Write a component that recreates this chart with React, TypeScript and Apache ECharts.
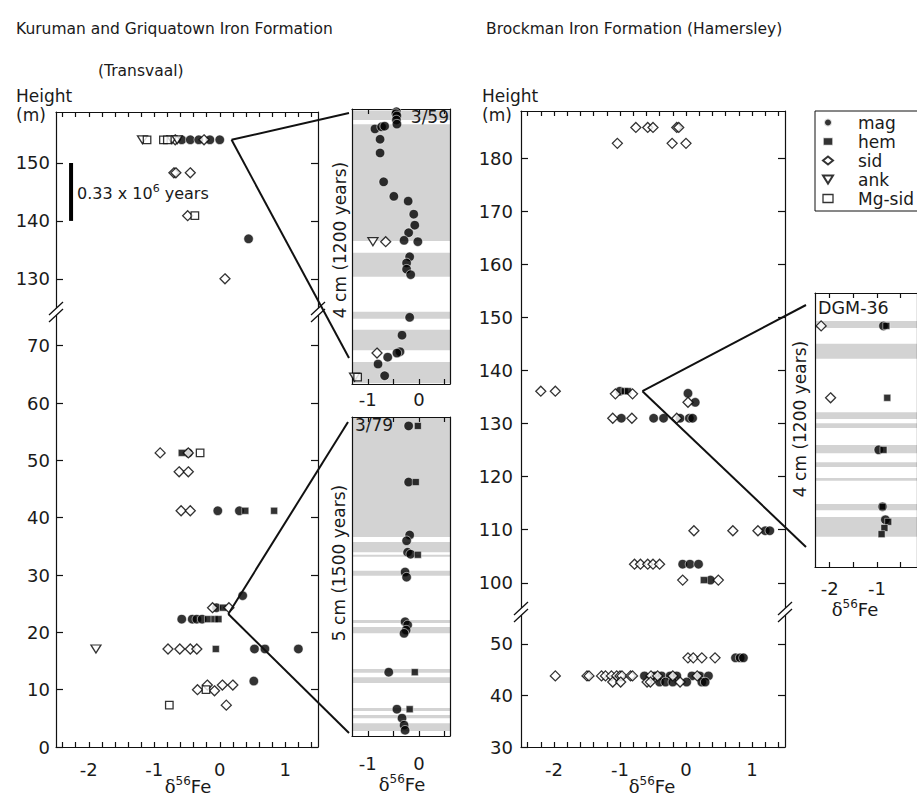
import React, { useEffect, useRef } from "react";
import * as echarts from "echarts";

const MINERALS = ["mag", "hem", "sid", "ank", "Mg-sid"];

// Kuruman & Griquatown Iron Formation (Transvaal): [δ56Fe, height m]
const kurMag = [[-0.58,154],[-0.45,154],[-0.32,154],[-0.15,154],[0.0,154],[0.44,136.9],[-0.48,51.3],[-0.03,41.2],[0.3,41.2],[0.35,26.4],[-0.05,24.3],[-0.58,22.3],[-0.42,22.3],[-0.35,22.3],[-0.27,22.3],[0.53,17.1],[0.69,17.1],[1.2,17.1],[0.52,11.5]];
const kurHem = [[-0.58,51.3],[0.39,41.2],[0.83,41.2],[0.05,24.3],[-0.18,22.3],[-0.08,22.3],[-0.02,22.3],[-0.06,17.1]];
const kurSid = [[-0.68,154],[-0.24,154],[-0.7,148.3],[-0.67,148.3],[-0.45,148.3],[-0.49,140.9],[0.08,130],[-0.91,51.3],[-0.48,51.3],[-0.62,48.0],[-0.48,48.0],[-0.59,41.2],[-0.45,41.2],[-0.11,24.3],[0.14,24.3],[-0.79,17.1],[-0.61,17.1],[-0.45,17.1],[-0.35,17.1],[-0.34,10.0],[-0.19,10.8],[-0.08,9.8],[0.04,10.8],[0.2,10.8],[0.1,7.3]];
const kurAnk = [[-1.18,154],[-0.73,154],[-0.65,154],[-1.89,17.1]];
const kurMgSid = [[-1.11,154],[-0.86,154],[-0.8,154],[-0.38,140.9],[-0.3,51.3],[-0.21,10.0],[-0.77,7.3]];

// Brockman Iron Formation (Hamersley): [δ56Fe, height m]
const brMag = [[0.03,135.7],[0.14,134.0],[-1.0,136.1],[-0.98,131],[-0.49,131],[-0.34,131],[-0.09,131],[0.05,131],[0.1,131],[1.2,109.8],[1.27,109.8],[-0.05,103.5],[0.06,103.5],[0.19,103.5],[0.37,100.5],[0.75,47.3],[0.82,47.3],[0.87,47.3],[-0.63,43.8],[-0.47,43.8],[-0.37,43.8],[-0.24,43.8],[-0.14,43.8],[0.09,43.8],[0.21,43.8],[0.34,43.8],[-0.4,42.6],[-0.31,42.6],[-0.2,42.6],[0.01,42.6],[0.24,42.6],[0.29,42.6]];
const brHem = [[-0.93,136.1],[-0.88,136.1],[0.27,100.5]];
const brSid = [[-1.04,182.8],[-0.21,182.8],[0.0,182.8],[-0.76,185.8],[-0.58,185.8],[-0.5,185.8],[-0.14,185.8],[-0.11,185.8],[-2.2,136.1],[-1.98,136.1],[-1.07,135.6],[-0.81,135.6],[0.03,134.0],[-1.11,131],[-0.82,131],[-0.14,131],[0.12,109.8],[0.71,109.8],[1.09,109.8],[-0.78,103.5],[-0.69,103.5],[-0.58,103.5],[-0.5,103.5],[-0.4,103.5],[-0.05,100.5],[0.49,100.5],[0.03,47.3],[0.11,47.3],[0.24,47.3],[0.44,47.3],[-1.98,43.8],[-1.5,43.8],[-1.47,43.8],[-1.28,43.8],[-1.22,43.8],[-1.13,43.8],[-1.05,43.8],[-1.0,43.8],[-0.97,43.8],[-0.84,43.8],[-0.81,43.8],[-0.53,43.8],[-0.43,43.8],[-0.2,43.8],[0.17,43.8],[-1.11,42.6],[-0.99,42.6],[-0.59,42.6],[-0.54,42.6],[-0.09,42.6]];

// Inset 3/59 (4 cm): [δ56Fe, position cm]
const in59Mag = [[-0.44,3.96],[-0.45,3.93],[-0.43,3.9],[-0.44,3.84],[-0.43,3.78],[-0.86,3.71],[-0.73,3.74],[-0.67,3.75],[-0.76,3.56],[-0.76,3.36],[-0.69,2.94],[-0.49,2.73],[-0.21,2.66],[-0.1,2.47],[-0.08,2.31],[-0.2,2.2],[-0.29,2.09],[-0.02,2.07],[-0.18,1.85],[-0.24,1.76],[-0.24,1.67],[-0.16,1.59],[-0.18,0.97],[-0.33,0.71],[-0.37,0.47],[-0.43,0.45],[-0.61,0.39],[-0.8,0.29],[-0.67,0.12]];
const in59Sid = [[-0.65,2.07],[-0.82,0.45]];
const in59Ank = [[-0.9,2.07],[-1.26,0.1]];
const in59MgSid = [[-1.2,0.1]];
const band59 = [[3.84,3.98],[2.08,3.78],[1.56,1.91],[0.95,1.05],[0.49,0.79],[0.01,0.32]];

// Inset 3/79 (5 cm)
const in79Mag = [[-0.2,4.86],[-0.2,3.98],[-0.18,3.15],[-0.24,3.06],[-0.22,2.88],[-0.16,2.85],[-0.27,2.57],[-0.24,2.49],[-0.27,1.79],[-0.22,1.74],[-0.25,1.66],[-0.29,1.61],[-0.59,1.0],[-0.43,0.42],[-0.33,0.28],[-0.29,0.17],[-0.27,0.09]];
const in79Hem = [[-0.02,4.86],[-0.06,3.98],[-0.02,2.84],[-0.08,1.0],[-0.18,0.42]];
const band79 = [[3.12,5.0],[2.88,3.04],[2.81,2.84],[2.51,2.59],[1.77,1.82],[1.61,1.71],[0.99,1.05],[0.83,0.92],[0.39,0.44],[0.28,0.33],[0.08,0.2]];

// Inset DGM-36 (4 cm)
const dgmMag = [[-0.86,3.52],[-0.96,1.71],[-0.88,0.88],[-0.82,0.69]];
const dgmHem = [[-0.8,3.52],[-0.78,2.47],[-0.86,1.71],[-0.88,0.88],[-0.76,0.66],[-0.84,0.57],[-0.9,0.48]];
const dgmSid = [[-2.18,3.52],[-1.98,2.47]];
const bandDgm = [[3.49,3.59],[3.04,3.26],[2.16,2.26],[2.03,2.1],[1.66,1.78],[1.46,1.53],[1.26,1.3],[0.83,0.92],[0.44,0.73]];

// scale bar (0.33 Ma) and zoom vertices
const scaleBar = [[-2.27,140],[-2.27,150]];
const zoomVertices = [[0.18,154],[0.13,23.2],[-0.66,136.1]];

// tick labels
const mainXLabels = [-2,-1,0,1];
const insetXLabels = [-1,0];
const dgmXLabels = [-2,-1];
const kurUpperY = [130,140,150];
const kurLowerY = [0,10,20,30,40,50,60,70];
const brUpperY = [100,110,120,130,140,150,160,170,180];
const brLowerY = [30,40,50];

const FONT = "DejaVu Sans";
const TXT = "#1a1a1a";
const LINE = "#111";

const mainXTicks: number[] = [];
for (let i = -12; i <= 7; i++) mainXTicks.push(Math.round(i * 2) / 10);
const insetTicks = [-1, -0.5, 0, 0.5];
const dgmTicks = [-2, -1.5, -1, -0.5];

const STY: any = {
  mag: { symbol: "circle", symbolSize: 9.5, itemStyle: { color: "#000", borderColor: "#fff", borderWidth: 0.7 } },
  hem: { symbol: "rect", symbolSize: 7, itemStyle: { color: "#000", borderColor: "#fff", borderWidth: 0.6 } },
  sid: { symbol: "diamond", symbolSize: [10, 10], itemStyle: { color: "#fff", borderColor: "#000", borderWidth: 1.3 } },
  ank: { symbol: "triangle", symbolSize: [10, 8], symbolRotate: 180, itemStyle: { color: "#fff", borderColor: "#000", borderWidth: 1.3 } },
  "Mg-sid": { symbol: "rect", symbolSize: 7.5, itemStyle: { color: "#fff", borderColor: "#000", borderWidth: 1.3 } },
};

// grid -> [xAxisIndex, yAxisIndex]
const GA = [[0, 0], [1, 2], [2, 4], [4, 6], [6, 8], [7, 10], [8, 12]];

function xAx(g: number, position: string, min: number, max: number, ticks: number[], labels: number[] | null, margin = 10) {
  return {
    type: "value", gridIndex: g, position, min, max, z: 2,
    axisLine: { show: true, onZero: false, lineStyle: { color: LINE, width: 1.2 } },
    axisTick: { show: true, inside: true, length: 5, customValues: ticks, lineStyle: { color: LINE, width: 1.2 } },
    axisLabel: labels
      ? { show: true, customValues: labels, margin, fontFamily: FONT, fontSize: 18, color: TXT, formatter: (v: number) => String(v) }
      : { show: false },
    splitLine: { show: false },
  };
}
function yAx(g: number, position: string, min: number, max: number, ticks: number[] | null, labels: number[] | null, margin = 6) {
  return {
    type: "value", gridIndex: g, position, min, max, z: 2,
    axisLine: { show: true, onZero: false, lineStyle: { color: LINE, width: 1.2 } },
    axisTick: ticks ? { show: true, inside: true, length: 7, customValues: ticks, lineStyle: { color: LINE, width: 1.2 } } : { show: false },
    axisLabel: labels
      ? { show: true, customValues: labels, margin, fontFamily: FONT, fontSize: 18, color: TXT, formatter: (v: number) => String(v) }
      : { show: false },
    splitLine: { show: false },
  };
}

function scatter(name: string, data: number[][], g: number) {
  const [xi, yi] = GA[g];
  return { type: "scatter", name, data, xAxisIndex: xi, yAxisIndex: yi, z: 3, ...STY[name] };
}
function bands(b: number[][], g: number) {
  const [xi, yi] = GA[g];
  return {
    type: "scatter", name: "band" + g, data: [], xAxisIndex: xi, yAxisIndex: yi, z: 1, silent: true,
    markArea: { silent: true, itemStyle: { color: "#d3d3d3", borderWidth: 0 }, data: b.map(([lo, hi]) => [{ yAxis: lo }, { yAxis: hi }]) },
  };
}

function text(x: number, y: number, t: string, size = 17, align = "left", rot = 0, rich?: any) {
  return {
    type: "text", x, y, rotation: rot, silent: true, z: 30,
    style: {
      text: t, fill: TXT, fontFamily: FONT, fontSize: size,
      align, textAlign: align, verticalAlign: "middle", textVerticalAlign: "middle",
      ...(rich ? { rich } : {}),
    },
  };
}
const deltaRich = {
  d: { fontFamily: "DejaVu Serif", fontSize: 18, fill: TXT },
  s: { fontFamily: FONT, fontSize: 12, fill: TXT, padding: [0, 0, 10, 0] },
  f: { fontFamily: FONT, fontSize: 18, fill: TXT },
};
const DELTA = "{d|δ}{s|56}{f|Fe}";

function brk(ax: number, by: number) {
  return [
    { type: "polygon", z: 20, silent: true, shape: { points: [[ax - 6, by + 3], [ax + 6, by - 8], [ax + 6, by - 1], [ax - 6, by + 10]] }, style: { fill: "#fff" } },
    { type: "line", z: 21, silent: true, shape: { x1: ax - 7, y1: by + 4, x2: ax + 7, y2: by - 9 }, style: { stroke: LINE, lineWidth: 1.3 } },
    { type: "line", z: 21, silent: true, shape: { x1: ax - 7, y1: by + 11, x2: ax + 7, y2: by - 2 }, style: { stroke: LINE, lineWidth: 1.3 } },
  ];
}

export default function App() {
  const ref = useRef<HTMLDivElement>(null);
  useEffect(() => {
    if (!ref.current) return;
    const chart = echarts.init(ref.current, undefined, { renderer: "svg" });

    const series: any[] = [];
    series.push(bands(band59, 2), bands(band79, 3), bands(bandDgm, 6));
    series.push({
      type: "line", name: "scale", data: scaleBar, xAxisIndex: 0, yAxisIndex: 0, symbol: "none", z: 3, silent: true,
      lineStyle: { width: 4, color: "#000" },
    });
    const kur: any = { mag: kurMag, hem: kurHem, sid: kurSid, ank: kurAnk, "Mg-sid": kurMgSid };
    const br: any = { mag: brMag, hem: brHem, sid: brSid };
    const i59: any = { mag: in59Mag, sid: in59Sid, ank: in59Ank, "Mg-sid": in59MgSid };
    const i79: any = { mag: in79Mag, hem: in79Hem };
    const dgm: any = { mag: dgmMag, hem: dgmHem, sid: dgmSid };
    for (const m of MINERALS) {
      const k = kur[m] || [];
      const b = br[m] || [];
      const add = (d: number[][], g: number) => { if (d && d.length) series.push(scatter(m, d, g)); };
      add(k.filter((p: number[]) => p[1] > 100), 0);
      add(k.filter((p: number[]) => p[1] <= 100), 1);
      add(b.filter((p: number[]) => p[1] > 80), 4);
      add(b.filter((p: number[]) => p[1] <= 80), 5);
      add(i59[m], 2);
      add(i79[m], 3);
      add(dgm[m], 6);
    }

    const legendData = MINERALS.map((n) => {
      if (n === "hem") return { name: n, itemStyle: { borderColor: "#fff", borderWidth: 1.6 } };
      if (n === "ank") return { name: n, icon: "path://M0,0L10,0L5,8Z" };
      if (n === "Mg-sid") return { name: n, icon: "rect", itemStyle: { color: "#fff", borderColor: "#000", borderWidth: 1.3 } };
      return { name: n };
    });

    const option: any = {
      animation: false,
      backgroundColor: "#fff",
      grid: [
        { left: 56, top: 112, width: 262, height: 201 },
        { left: 56, top: 313, width: 262, height: 434 },
        { left: 352, top: 109, width: 98, height: 275 },
        { left: 352, top: 417, width: 98, height: 319 },
        { left: 521, top: 111, width: 264, height: 502 },
        { left: 521, top: 613, width: 264, height: 134 },
        { left: 815, top: 293, width: 110, height: 274 },
      ],
      xAxis: [
        xAx(0, "top", -2.5, 1.5, mainXTicks, null),
        xAx(1, "bottom", -2.5, 1.5, mainXTicks, mainXLabels, 13),
        xAx(2, "bottom", -1.31, 0.61, insetTicks, insetXLabels, 6),
        xAx(2, "top", -1.31, 0.61, insetTicks, null),
        xAx(3, "bottom", -1.31, 0.61, insetTicks, insetXLabels, 18),
        xAx(3, "top", -1.31, 0.61, insetTicks, null),
        xAx(4, "top", -2.5, 1.5, mainXTicks, null),
        xAx(5, "bottom", -2.5, 1.5, mainXTicks, mainXLabels, 13),
        xAx(6, "bottom", -2.31, -0.15, dgmTicks, dgmXLabels, 12),
        xAx(6, "top", -2.31, -0.15, dgmTicks, null),
      ],
      yAxis: [
        yAx(0, "left", 124.1, 158.8, kurUpperY, kurUpperY, 6),
        yAx(0, "right", 124.1, 158.8, kurUpperY, null),
        yAx(1, "left", 0, 75.7, kurLowerY, kurLowerY, 6),
        yAx(1, "right", 0, 75.7, kurLowerY, null),
        yAx(2, "left", 0, 4, null, null),
        yAx(2, "right", 0, 4, null, null),
        yAx(3, "left", 0, 5, null, null),
        yAx(3, "right", 0, 5, null, null),
        yAx(4, "left", 94.3, 188.9, brUpperY, brUpperY, 8),
        yAx(4, "right", 94.3, 188.9, brUpperY, null),
        yAx(5, "left", 30, 56, brLowerY, brLowerY, 8),
        yAx(5, "right", 30, 56, brLowerY, null),
        yAx(6, "left", 0, 4, null, null),
        yAx(6, "right", 0, 4, null, null),
      ],
      legend: {
        data: legendData,
        orient: "vertical", left: 815, top: 111, padding: [2, 12, 3, 7],
        itemWidth: 10, itemHeight: 8, itemGap: 0, selectedMode: false,
        borderColor: "#111", borderWidth: 1, backgroundColor: "#fff",
        textStyle: { fontFamily: FONT, fontSize: 17, color: TXT, lineHeight: 19, padding: [0, 0, 0, 20] },
      },
      series,
    };
    chart.setOption(option);

    const v0 = chart.convertToPixel({ gridIndex: 0 } as any, zoomVertices[0]) as number[];
    const v1 = chart.convertToPixel({ gridIndex: 1 } as any, zoomVertices[1]) as number[];
    const v2 = chart.convertToPixel({ gridIndex: 4 } as any, zoomVertices[2]) as number[];
    const ln = (a: number[], x2: number, y2: number) => ({
      type: "line", z: 25, silent: true, shape: { x1: a[0], y1: a[1], x2, y2 }, style: { stroke: LINE, lineWidth: 2 },
    });

    const graphic: any[] = [
      ln(v0, 349, 113), ln(v0, 349, 358),
      ln(v1, 348, 422), ln(v1, 349, 733),
      ln(v2, 806, 305), ln(v2, 806, 547),
      ...brk(56, 311), ...brk(318, 311), ...brk(521, 611), ...brk(785, 611),
      text(16, 29, "Kuruman and Griquatown Iron Formation", 15.5),
      text(98, 71, "(Transvaal)", 15.5),
      text(486, 29, "Brockman Iron Formation (Hamersley)", 15.5),
      text(16, 96, "Height", 17),
      text(16, 115, "(m)", 17),
      text(482, 96, "Height", 17),
      text(482, 115, "(m)", 17),
      text(77, 193, "{a|0.33 x 10}{s|6}{a| years}", 16, "left", 0, {
        a: { fontFamily: FONT, fontSize: 16, fill: TXT },
        s: { fontFamily: FONT, fontSize: 11, fill: TXT, padding: [0, 0, 9, 0] },
      }),
      text(449, 117, "3/59", 17, "right"),
      text(355, 425, "3/79", 17),
      text(818, 308, "DGM-36", 17.5),
      text(340, 240, "4 cm (1200 years)", 17, "center", Math.PI / 2),
      text(339, 563, "5 cm (1500 years)", 17, "center", Math.PI / 2),
      text(800, 419, "4 cm (1200 years)", 17, "center", Math.PI / 2),
      text(188, 786, DELTA, 18, "center", 0, deltaRich),
      text(652, 786, DELTA, 18, "center", 0, deltaRich),
      text(402, 784, DELTA, 18, "center", 0, deltaRich),
      text(855, 609, DELTA, 18, "center", 0, deltaRich),
    ];
    chart.setOption({ graphic });

    return () => chart.dispose();
  }, []);
  return <div ref={ref} style={{ position: "absolute", left: 0, top: 0, width: 917, height: 799 }} />;
}
